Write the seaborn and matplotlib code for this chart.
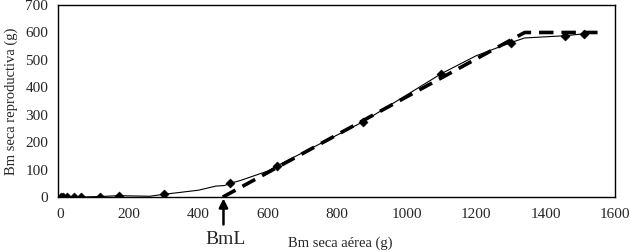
import matplotlib
matplotlib.use("Agg")
import matplotlib.pyplot as plt
import seaborn as sns
import pandas as pd

# observed points (diamond markers)
obs_x = [5, 10, 20, 40, 60, 115, 170, 300, 490, 625, 875, 1100, 1300, 1455, 1510]
obs_y = [0, 0, 0, 0, 0, 2, 5, 10, 50, 113, 275, 450, 563, 588, 595]

# smooth solid curve through data
curve_x = [5, 10, 20, 40, 60, 115, 170, 260, 300, 400, 450, 475, 490, 520, 600, 625,
           875, 1100, 1200, 1300, 1340, 1455, 1510]
curve_y = [0, 0, 0, 0, 0, 2, 5, 3, 10, 25, 40, 42, 50, 60, 95, 113,
           275, 450, 515, 563, 580, 588, 595]

# fitted segmented model (dashed)
fit_x = [470, 1340, 1550]
fit_y = [0, 600, 600]

x_ticks = [0, 200, 400, 600, 800, 1000, 1200, 1400, 1600]
y_ticks = [0, 100, 200, 300, 400, 500, 600, 700]
bml_x = 472

sns.set_style("white")
plt.rcParams['font.family'] = ['Liberation Serif', 'DejaVu Serif']

fig = plt.figure(figsize=(6.3, 2.52), dpi=100)
ax = fig.add_axes([0.092, 0.218, 0.884, 0.762])

sns.lineplot(x=fit_x, y=fit_y, ax=ax, color='black', linewidth=2.6,
             linestyle=(0, (4, 2.2)), sort=False)
sns.lineplot(x=curve_x, y=curve_y, ax=ax, color='black', linewidth=0.8, sort=False)
sns.scatterplot(x=obs_x, y=obs_y, ax=ax, marker='D', color='black', s=22,
                edgecolor='black', linewidth=0.3, zorder=5)

ax.set_xlim(-5, 1600)
ax.set_ylim(0, 700)
ax.set_xticks(x_ticks)
ax.set_yticks(y_ticks)
ax.set_xticklabels([str(t) for t in x_ticks], fontsize=11)
ax.set_yticklabels([str(t) for t in y_ticks], fontsize=11)
ax.tick_params(axis='x', length=0, pad=8)
ax.tick_params(axis='y', length=0, pad=7)
for s in ax.spines.values():
    s.set_color('black')
    s.set_linewidth(1.0)

ax.set_ylabel('Bm seca reproductiva (g)', fontsize=10.5, labelpad=5)
ax.set_xlabel('')
fig.text(340 / 630, 1 - 243 / 252, 'Bm seca aérea (g)', fontsize=10.5,
         ha='center', va='center')

ann = ax.annotate('', xy=(bml_x, 0), xytext=(bml_x, -100),
                  xycoords='data', textcoords='data',
                  arrowprops=dict(arrowstyle='-|>', color='black', lw=1.8,
                                  mutation_scale=13, shrinkA=0, shrinkB=1),
                  annotation_clip=False)
ann.arrow_patch.set_clip_on(False)
fig.text(226 / 630, 1 - 239 / 252, 'BmL', fontsize=14, ha='center', va='center')

fig.savefig('out.png', dpi=100)
